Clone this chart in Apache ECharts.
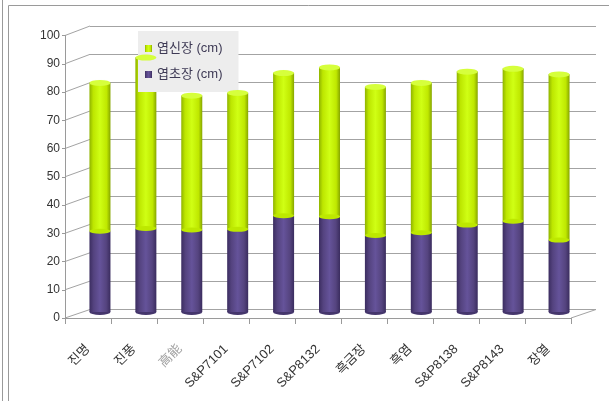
<!DOCTYPE html>
<html>
<head>
<meta charset="utf-8">
<script src="https://cdn.jsdelivr.net/npm/echarts@6/dist/echarts.min.js"></script>
<style>
  html, body { margin: 0; padding: 0; background: #ffffff; }
  #chart { width: 609px; height: 401px; }
</style>
</head>
<body>
<div id="chart"></div>
<script>
// Cultivars on the category axis
const categories = ['진명', '진풍', '高能', 'S&P7101', 'S&P7102', 'S&P8132', '흑금장', '흑염', 'S&P8138', 'S&P8143', '장열'];
// Leaf sheath length (cm), bottom segment of each stack
const sheathLength = [28.5, 29.5, 29.0, 29.2, 34.0, 33.7, 27.0, 28.0, 30.7, 32.1, 25.4];
// Leaf blade length (cm), top segment of each stack
const bladeLength = [52.5, 60.5, 47.5, 48.3, 50.5, 52.8, 52.6, 53.0, 54.3, 53.9, 58.6];
// Value axis range and step
const yMin = 0, yMax = 100, yStep = 10;

const seriesNames = ['엽신장 (cm)', '엽초장 (cm)'];
const totals = sheathLength.map((v, i) => v + bladeLength[i]);

const FONT = "'Liberation Sans', 'Noto Sans CJK KR', sans-serif";

// 3D frame layout: front axes, back wall, and the plane the columns stand in
const FRONT = { left: 65, right: 571, top: 35.5, base: 318 };
const BACK = { left: 90, right: 596, top: 26, base: 309.5 };
const BARS = { left: 77, right: 582, top: 29, base: 312 };
const H = 401, W = 609;

const gridFor = (r) => ({ left: r.left, top: r.top, width: r.right - r.left, height: r.base - r.top, containLabel: false });

const greenFill = new echarts.graphic.LinearGradient(0, 0, 1, 0, [
  { offset: 0, color: '#8fb300' },
  { offset: 0.18, color: '#bde600' },
  { offset: 0.5, color: '#d0ff14' },
  { offset: 0.82, color: '#bfe800' },
  { offset: 1, color: '#86a500' }
]);
const purpleFill = new echarts.graphic.LinearGradient(0, 0, 1, 0, [
  { offset: 0, color: '#3b2d60' },
  { offset: 0.2, color: '#54437f' },
  { offset: 0.5, color: '#65539a' },
  { offset: 0.8, color: '#55447f' },
  { offset: 1, color: '#3a2c5e' }
]);

const chart = echarts.init(document.getElementById('chart'), null, { renderer: 'canvas' });

const option = {
  animation: false,
  backgroundColor: '#ffffff',
  textStyle: { fontFamily: FONT },
  legend: {
    data: seriesNames,
    orient: 'vertical',
    left: 138,
    top: 31,
    backgroundColor: '#ededed',
    padding: [11, 16, 11, 7],
    itemGap: 13,
    itemWidth: 7,
    itemHeight: 7,
    icon: 'rect',
    selectedMode: false,
    textStyle: { fontSize: 13, color: '#3e3a55', fontFamily: FONT }
  },
  grid: [gridFor(BACK), gridFor(FRONT), gridFor(BARS)],
  xAxis: [
    { gridIndex: 0, type: 'category', data: categories, show: false },
    {
      gridIndex: 1, type: 'category', data: categories,
      axisLine: { show: true, lineStyle: { color: '#9a9a9a' } },
      axisTick: { show: true, length: 6, lineStyle: { color: '#9a9a9a' } },
      axisLabel: {
        interval: 0, rotate: 45, margin: 29, fontSize: 13, color: '#333333',
        formatter: (v) => /[\u4e00-\u9fff]/.test(v) ? '{han|' + v + '}' : v,
        rich: { han: { color: '#a0a0a0', fontSize: 13, fontFamily: "'DejaVu Serif', 'Noto Sans CJK SC', serif" } }
      }
    },
    { gridIndex: 2, type: 'category', data: categories, show: false }
  ],
  yAxis: [
    {
      gridIndex: 0, type: 'value', min: yMin, max: yMax, interval: yStep,
      axisLine: { show: false }, axisTick: { show: false }, axisLabel: { show: false },
      splitLine: { show: true, lineStyle: { color: '#a3a3a3', width: 1 } }
    },
    {
      gridIndex: 1, type: 'value', min: yMin, max: yMax, interval: yStep,
      axisLine: { show: true, lineStyle: { color: '#9a9a9a' } },
      axisTick: { show: true, length: 3, lineStyle: { color: '#9a9a9a' } },
      axisLabel: { margin: 5, fontSize: 12, color: '#333333' },
      splitLine: { show: false }
    },
    { gridIndex: 2, type: 'value', min: yMin, max: yMax, interval: yStep, show: false, splitLine: { show: false } }
  ],
  series: [
    {
      name: seriesNames[1], type: 'bar', stack: 'leaf', xAxisIndex: 2, yAxisIndex: 2,
      barWidth: 21, data: sheathLength, z: 2,
      itemStyle: { color: purpleFill }
    },
    {
      name: seriesNames[0], type: 'bar', stack: 'leaf', xAxisIndex: 2, yAxisIndex: 2,
      barWidth: 21, data: bladeLength, z: 2,
      itemStyle: { color: greenFill }
    },
    // rounded base of each column
    {
      name: 'base', type: 'pictorialBar', xAxisIndex: 2, yAxisIndex: 2,
      symbol: 'circle', symbolSize: [21, 6], symbolPosition: 'start', symbolOffset: [0, '50%'],
      data: sheathLength, z: 1, legendHoverLink: false, silent: true,
      itemStyle: { color: '#45366c' }
    },
    // curved seam where the blade segment sits on the sheath segment
    {
      name: 'seam', type: 'pictorialBar', xAxisIndex: 2, yAxisIndex: 2,
      symbol: 'circle', symbolSize: [21, 5], symbolPosition: 'end', symbolOffset: [0, '-50%'],
      data: sheathLength, z: 3, silent: true,
      itemStyle: { color: '#bde800' }
    },
    // elliptical cap on top of each column
    {
      name: 'cap', type: 'pictorialBar', xAxisIndex: 2, yAxisIndex: 2,
      symbol: 'circle', symbolSize: [21, 6], symbolPosition: 'end', symbolOffset: [0, '-50%'],
      data: totals, z: 4, silent: true,
      itemStyle: { color: '#d6ff3c', borderColor: '#9cc000', borderWidth: 0.8 }
    }
  ]
};

chart.setOption(option);

// Side-wall gridlines and floor edges joining the front axis to the back wall
const frameColor = '#a3a3a3';
const elements = [];
for (let v = yMin; v <= yMax; v += yStep) {
  const fy = chart.convertToPixel({ yAxisIndex: 1 }, v);
  const by = chart.convertToPixel({ yAxisIndex: 0 }, v);
  elements.push({
    type: 'line', silent: true, z: 0,
    shape: { x1: FRONT.left, y1: fy, x2: BACK.left, y2: by },
    style: { stroke: frameColor, lineWidth: 1 }
  });
}
const fy0 = chart.convertToPixel({ yAxisIndex: 1 }, yMin);
const by0 = chart.convertToPixel({ yAxisIndex: 0 }, yMin);
elements.push({
  type: 'line', silent: true, z: 0,
  shape: { x1: FRONT.right, y1: fy0, x2: BACK.right, y2: by0 },
  style: { stroke: frameColor, lineWidth: 1 }
});
// chart-area border
elements.push(
  { type: 'line', silent: true, shape: { x1: 2.5, y1: 0, x2: 2.5, y2: H }, style: { stroke: '#9a9a9a', lineWidth: 1 } },
  { type: 'line', silent: true, shape: { x1: 8.5, y1: 5.5, x2: 8.5, y2: H }, style: { stroke: '#9a9a9a', lineWidth: 1 } },
  { type: 'line', silent: true, shape: { x1: 8.5, y1: 5.5, x2: W, y2: 5.5 }, style: { stroke: '#9a9a9a', lineWidth: 1 } }
);
chart.setOption({ graphic: { elements } });
</script>
</body>
</html>
